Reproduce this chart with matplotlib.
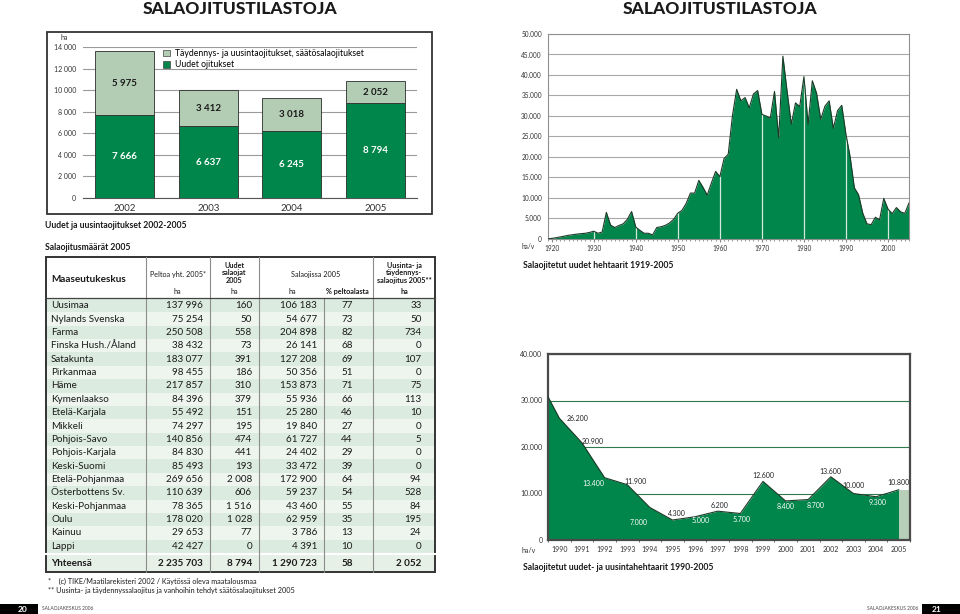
import matplotlib
matplotlib.use('Agg')
import matplotlib.pyplot as plt
from matplotlib.patches import Rectangle, Patch
from matplotlib.ticker import MultipleLocator, FuncFormatter
import numpy as np

plt.rcParams['font.family'] = ['Lato', 'DejaVu Sans']

# ---------------- DATA ----------------
bar_years = ['2002', '2003', '2004', '2005']
new_ha = [7666, 6637, 6245, 8794]
renew_ha = [5975, 3412, 3018, 2052]
bar_legend = ['Täydennys- ja uusintaojitukset, säätösalaojitukset', 'Uudet ojitukset']

regions = ['Uusimaa', 'Nylands Svenska', 'Farma', 'Finska Hush./Åland', 'Satakunta',
           'Pirkanmaa', 'Häme', 'Kymenlaakso', 'Etelä-Karjala', 'Mikkeli',
           'Pohjois-Savo', 'Pohjois-Karjala', 'Keski-Suomi', 'Etelä-Pohjanmaa',
           'Österbottens Sv.', 'Keski-Pohjanmaa', 'Oulu', 'Kainuu', 'Lappi']
peltoa = [137996, 75254, 250508, 38432, 183077, 98455, 217857, 84396, 55492, 74297,
          140856, 84830, 85493, 269656, 110639, 78365, 178020, 29653, 42427]
uudet = [160, 50, 558, 73, 391, 186, 310, 379, 151, 195, 474, 441, 193, 2008, 606,
         1516, 1028, 77, 0]
salaojissa = [106183, 54677, 204898, 26141, 127208, 50356, 153873, 55936, 25280, 19840,
              61727, 24402, 33472, 172900, 59237, 43460, 62959, 3786, 4391]
pct = [77, 73, 82, 68, 69, 51, 71, 66, 46, 27, 44, 29, 39, 64, 54, 55, 35, 13, 10]
uusinta = [33, 50, 734, 0, 107, 0, 75, 113, 10, 0, 5, 0, 0, 94, 528, 84, 195, 24, 0]
total_label = 'Yhteensä'
totals = [2235703, 8794, 1290723, 58, 2052]

hist_years = list(range(1919, 2006))
hist_values = [0, 150, 300, 500, 700, 900, 1050, 1200, 1300, 1400,          # 1919-1928
               1600, 1900, 1400, 1700, 6500, 3400, 2800, 3300, 3700, 4800,  # 1929-1938
               6700, 2900, 2100, 1400, 1400, 1000, 2800, 3000, 3300, 3900,  # 1939-1948
               4800, 6300, 7000, 8700, 11200, 11200, 14300, 12600, 10700, 13700,  # 1949-1958
               16500, 15200, 19600, 20700, 30100, 36500, 33700, 34500, 32000, 35400,  # 1959-1968
               36200, 30400, 30000, 29500, 36000, 24700, 44600, 36000, 28000, 33200,  # 1969-1978
               32300, 39600, 28000, 38600, 35600, 29200, 32400, 33700, 27000, 31300,  # 1979-1988
               32600, 25500, 20000, 12500, 10800, 6300, 3700, 3500, 5300, 4700,     # 1989-1998
               9900, 7300, 6200, 7666, 6637, 6245, 8794]                             # 1999-2005

recent_years = list(range(1989, 2006))
recent_values = [35400, 26200, 20900, 13400, 11900, 7000, 4300, 5000, 6200, 5700,
                 12600, 8400, 8700, 13600, 10000, 9300, 10800]

# ---------------- STYLE ----------------
W, H = 960, 614
DARK = '#00854a'
LIGHT = '#b3ccb4'
EDGE = '#1d3a28'
TXT = '#1a1a1a'
FS = 7.1

fig = plt.figure(figsize=(W / 100, H / 100), dpi=100)


def rect(x0, y0, x1, y1):
    return [x0 / W, 1 - y1 / H, (x1 - x0) / W, (y1 - y0) / H]


ov = fig.add_axes([0, 0, 1, 1], zorder=0)
ov.set_xlim(0, W)
ov.set_ylim(H, 0)
ov.axis('off')


def sp(v):
    return f'{v:,}'.replace(',', ' ')


def dot(v):
    return f'{v:,}'.replace(',', '.')


# Titles
for xc in (240, 720):
    ov.text(xc, 9, 'SALAOJITUSTILASTOJA', ha='center', va='center', fontsize=12.5,
            fontweight='black', color=TXT)

# ---------------- BAR CHART ----------------
ov.add_patch(Rectangle((47, 32), 385, 182, fill=False, edgecolor='#333333', lw=1.3))
axb = fig.add_axes(rect(83, 47, 417, 198), zorder=2)
x = np.arange(len(bar_years))
axb.bar(x, new_ha, width=0.71, color=DARK, edgecolor='#2b2b2b', lw=0.6, zorder=3)
axb.bar(x, renew_ha, bottom=new_ha, width=0.71, color=LIGHT, edgecolor='#2b2b2b',
        lw=0.6, zorder=3)
for i in range(len(bar_years)):
    axb.text(x[i], new_ha[i] / 2, sp(new_ha[i]), ha='center', va='center', color='white',
             fontsize=7, fontweight='bold', zorder=4)
    axb.text(x[i], new_ha[i] + renew_ha[i] / 2, sp(renew_ha[i]), ha='center', va='center',
             color=TXT, fontsize=7, fontweight='bold', zorder=4)
axb.set_xlim(-0.5, 3.5)
axb.set_ylim(0, 14000)
axb.yaxis.set_major_locator(MultipleLocator(2000))
axb.yaxis.set_major_formatter(FuncFormatter(lambda v, p: sp(int(v))))
axb.grid(axis='y', color='#9a9a9a', lw=0.8, zorder=0)
for s in ('left', 'right', 'top'):
    axb.spines[s].set_visible(False)
axb.spines['bottom'].set_color('#555555')
axb.tick_params(axis='y', length=0, labelsize=5, labelcolor='#333333', pad=5)
axb.set_xticks(x)
axb.set_xticklabels(bar_years)
axb.tick_params(axis='x', length=0, labelsize=7, labelcolor='#333333', pad=4)
axb.text(-0.045, 1.06, 'ha', transform=axb.transAxes, fontsize=5, color='#333333',
         ha='right', va='center')
handles = [Patch(facecolor=LIGHT, edgecolor='#444444', lw=0.5),
           Patch(facecolor=DARK, edgecolor='#444444', lw=0.5)]
axb.legend(handles, bar_legend, loc='upper left', bbox_to_anchor=(0.225, 1.02),
           frameon=False, fontsize=6.2, handlelength=0.8, handleheight=0.8,
           labelspacing=0.25, borderpad=0.1, handletextpad=0.5)

ov.text(45, 225, 'Uudet ja uusintaojitukset 2002-2005', fontsize=6.2, fontweight='bold',
        color=TXT, va='center')
ov.text(45, 247, 'Salaojitusmäärät 2005', fontsize=6.2, fontweight='bold',
        color=TXT, va='center')

# ---------------- TABLE ----------------
tx0, tx1 = 46, 435
ty0, thead = 257, 298
row_h = 13.37
cols = [46, 145.7, 210, 259, 324, 372.7, 435]
n = len(regions)
tot_top = thead + 1 + row_h * n + 1
tot_bot = 572
for i in range(n):
    y0 = thead + 1 + row_h * i
    ov.add_patch(Rectangle((tx0, y0), tx1 - tx0, row_h,
                           color='#dcebdf' if i % 2 == 0 else '#edf5ee', lw=0))
ov.add_patch(Rectangle((tx0, tot_top), tx1 - tx0, tot_bot - tot_top, color='#e6f0e7', lw=0))
ov.plot([tx0, tx1], [tot_top - 0.5, tot_top - 0.5], color='white', lw=1.5)
for cx in cols[1:-1]:
    y_start = thead if cx == 324 else ty0
    ov.plot([cx, cx], [y_start, tot_bot], color='#8c8c8c', lw=0.8)
ov.plot([tx0, tx1], [thead, thead], color='#444444', lw=0.9)
ov.add_patch(Rectangle((tx0, ty0), tx1 - tx0, tot_bot - ty0, fill=False,
                       edgecolor='#333333', lw=1.4))

# header
ov.text(51, 279, 'Maaseutukeskus', fontsize=7.2, fontweight='bold', color=TXT, va='center')
ov.text(178, 274, 'Peltoa yht. 2005*', fontsize=5.2, color=TXT, ha='center', va='center')
ov.text(234.5, 273, 'Uudet\nsalaojat\n2005', fontsize=5.2, fontweight='bold', color=TXT,
        ha='center', va='center', linespacing=1.1)
ov.text(316, 274, 'Salaojissa 2005', fontsize=5.2, color=TXT, ha='center', va='center')
ov.text(404, 273, 'Uusinta- ja\ntäydennys-\nsalaojitus 2005**', fontsize=5.2,
        fontweight='bold', color=TXT, ha='center', va='center', linespacing=1.1)
for xc, t in [(177, 'ha'), (234.5, 'ha'), (292, 'ha'), (347, '% peltoalasta'), (404, 'ha')]:
    ov.text(xc, 291.5, t, fontsize=5.2, fontweight='bold' if t != 'ha' or xc > 390 else 'normal',
            color=TXT, ha='center', va='center')

for i in range(n):
    yc = thead + 1 + row_h * (i + 0.5)
    ov.text(51, yc, regions[i], fontsize=FS, color=TXT, va='center')
    ov.text(203, yc, sp(peltoa[i]), fontsize=FS, color=TXT, va='center', ha='right')
    ov.text(252, yc, sp(uudet[i]), fontsize=FS, color=TXT, va='center', ha='right')
    ov.text(317, yc, sp(salaojissa[i]), fontsize=FS, color=TXT, va='center', ha='right')
    ov.text(347, yc, str(pct[i]), fontsize=FS, color=TXT, va='center', ha='center')
    ov.text(421.5, yc, sp(uusinta[i]), fontsize=FS, color=TXT, va='center', ha='right')
yc = (tot_top + tot_bot) / 2 + 0.5
ov.text(51, yc, total_label, fontsize=FS, fontweight='bold', color=TXT, va='center')
for xr, v, ha in [(203, sp(totals[0]), 'right'), (252, sp(totals[1]), 'right'),
                  (317, sp(totals[2]), 'right'), (347, str(totals[3]), 'center'),
                  (421.5, sp(totals[4]), 'right')]:
    ov.text(xr, yc, v, fontsize=FS, fontweight='bold', color=TXT, va='center', ha=ha)

ov.text(48, 581.5, '*    (c) TIKE/Maatilarekisteri 2002 / Käytössä oleva maatalousmaa',
        fontsize=5.2, color=TXT, va='center')
ov.text(48, 590.5, '** Uusinta- ja täydennyssalaojitus ja vanhoihin tehdyt säätösalaojitukset 2005',
        fontsize=5.2, color=TXT, va='center')

# footer
ov.add_patch(Rectangle((0, 604), 38, 10, color='black', lw=0))
ov.text(23, 609, '20', fontsize=6, fontweight='bold', color='white', ha='center', va='center')
ov.text(42, 609, 'SALAOJAKESKUS 2006', fontsize=3.5, color='#444444', va='center')
ov.add_patch(Rectangle((922, 604), 38, 10, color='black', lw=0))
ov.text(937, 609, '21', fontsize=6, fontweight='bold', color='white', ha='center', va='center')
ov.text(918, 609, 'SALAOJAKESKUS 2006', fontsize=3.5, color='#444444', va='center', ha='right')

# ---------------- HISTORY AREA CHART ----------------
axh = fig.add_axes(rect(547.5, 34, 909, 239), zorder=2)
hy = np.array(hist_years)
hv = np.array(hist_values)
axh.fill_between(hy, hv, 0, color=DARK, lw=0, zorder=2)
axh.plot(hy, hv, color=EDGE, lw=0.8, zorder=3)
for yr in range(1930, 2001, 10):
    axh.plot([yr, yr], [0, hv[hist_years.index(yr)]], color='#d8e8dc', lw=0.9, zorder=2.5)
axh.set_xlim(1919, 2005)
axh.set_ylim(0, 50000)
axh.yaxis.set_major_locator(MultipleLocator(5000))
axh.yaxis.set_major_formatter(FuncFormatter(lambda v, p: dot(int(v))))
axh.grid(axis='y', color='#a8a8a8', lw=0.8, zorder=0)
axh.set_xticks(range(1920, 2001, 10))
axh.xaxis.set_minor_locator(MultipleLocator(1))
for s in axh.spines.values():
    s.set_color('#909090')
    s.set_linewidth(0.8)
axh.tick_params(axis='y', length=0, labelsize=4.7, labelcolor='#333333', pad=4)
axh.tick_params(axis='x', which='major', length=2, color='#888888', labelsize=4.7,
                labelcolor='#333333', pad=2)
axh.tick_params(axis='x', which='minor', length=1.2, color='#888888')
axh.text(-0.035, -0.035, 'ha/v', transform=axh.transAxes, fontsize=4.7, color='#333333',
         ha='right', va='center')
ov.text(523, 266, 'Salaojitetut uudet hehtaarit 1919-2005', fontsize=6.2, fontweight='bold',
        color=TXT, va='center')

# ---------------- RECENT AREA CHART ----------------
axr = fig.add_axes(rect(548, 354, 910, 540), zorder=2)
ry = np.array(recent_years)
rv = np.array(recent_values)
axr.fill_between(ry, rv, 0, color=DARK, lw=0, zorder=2)
axr.plot(ry, rv, color=EDGE, lw=0.8, zorder=3)
axr.fill_between([ry[-1], ry[-1] + 0.5], rv[-1], 0, color='#b7cfb9', lw=0, zorder=2)
axr.set_xlim(1989.5, 2005.5)
axr.set_ylim(0, 40000)
axr.yaxis.set_major_locator(MultipleLocator(10000))
axr.yaxis.set_major_formatter(FuncFormatter(lambda v, p: dot(int(v))))
axr.grid(axis='y', color='#2f7a4d', lw=0.8, zorder=1)
axr.set_xticks(range(1990, 2006))
axr.set_xticks(np.arange(1989.5, 2006, 1.0), minor=True)
for s in axr.spines.values():
    s.set_color('#4a4a4a')
    s.set_linewidth(1.6)
axr.tick_params(axis='y', length=0, labelsize=5, labelcolor='#333333', pad=4)
axr.tick_params(axis='x', which='major', length=0, labelsize=5, labelcolor='#333333', pad=4)
axr.tick_params(axis='x', which='minor', length=2.5, direction='inout', color='#4a4a4a')
axr.text(-0.035, -0.055, 'ha/v', transform=axr.transAxes, fontsize=5, color='#333333',
         ha='right', va='center')

label_offsets = [(13, 0), (8, 1), (-8, -4), (6, 2), (-8, -11), (3, 5), (4, -3), (1, 4),
                 (1, -4), (0, 4), (0, -4), (5, -4), (0, 4), (0, 6), (1, -4), (0, 5)]
label_white = [False, False, True, False, True, False, True, False, True, False, True,
               True, False, False, True, False]
for j, yr in enumerate(recent_years[1:]):
    v = recent_values[j + 1]
    dx, dy = label_offsets[j]
    axr.annotate(dot(v), (yr, v), xytext=(dx, dy), textcoords='offset points',
                 ha='center', va='center', fontsize=5,
                 color='white' if label_white[j] else '#222222', zorder=5)
ov.text(523, 568, 'Salaojitetut uudet- ja uusintahehtaarit 1990-2005', fontsize=6.2,
        fontweight='bold', color=TXT, va='center')

fig.savefig('out.png', dpi=100)
